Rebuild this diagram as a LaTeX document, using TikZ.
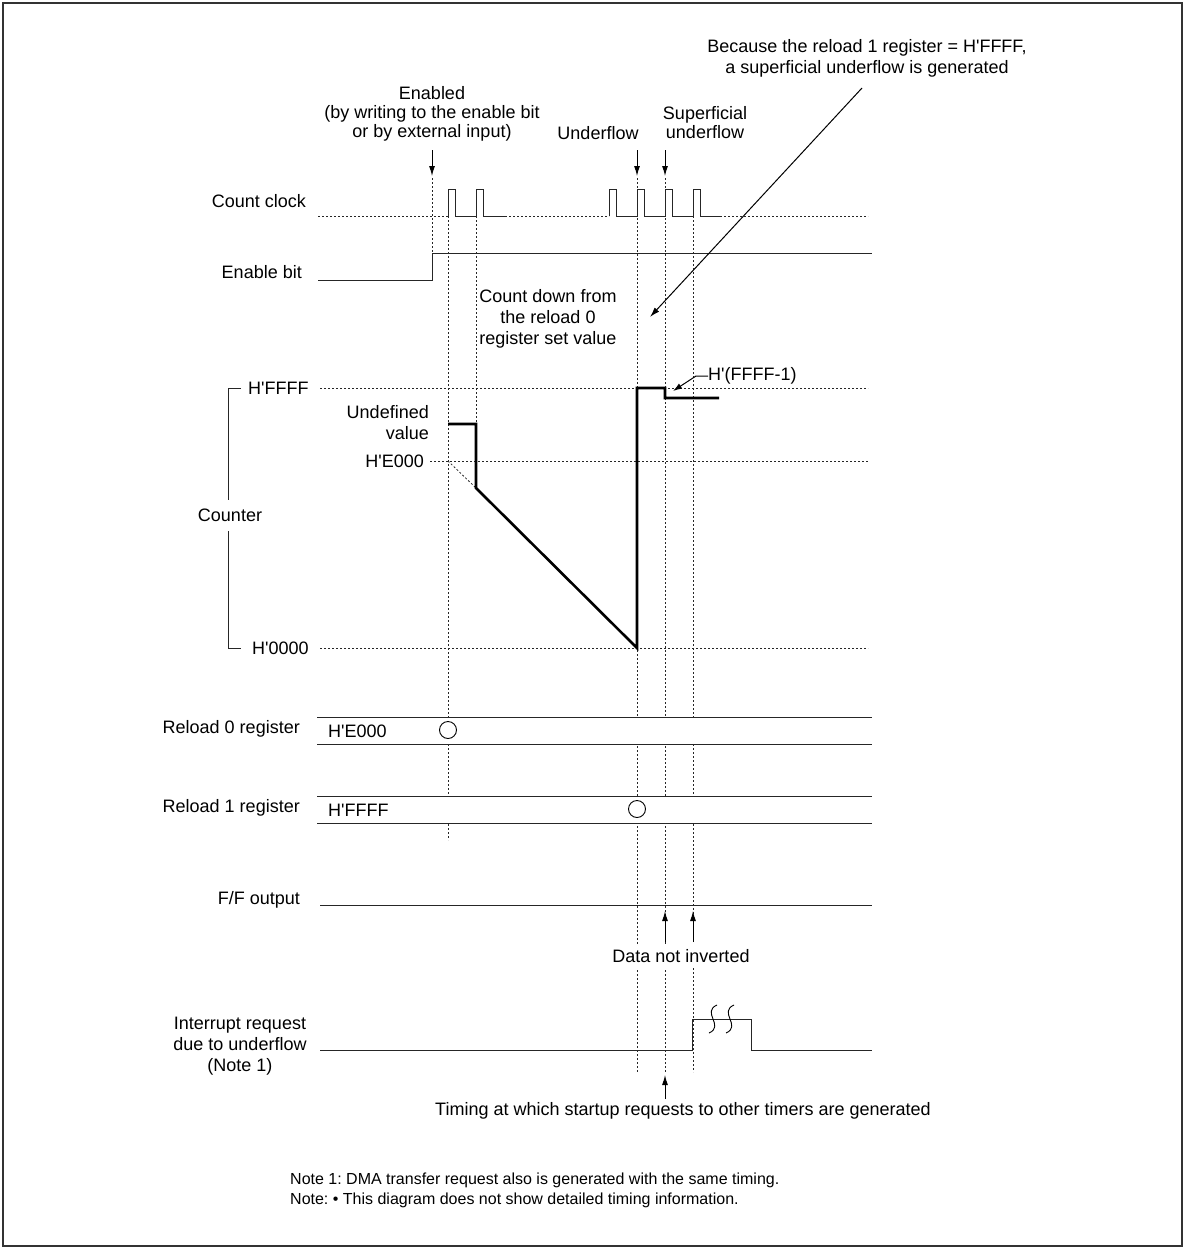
\documentclass[tikz,border=0pt]{standalone}
\usepackage{fontspec}
\setmainfont{Liberation Sans}[Ligatures=TeXOff]
\usetikzlibrary{arrows.meta}
\frenchspacing
\begin{document}
\begin{tikzpicture}[x=1pt,y=-1pt,
  txt/.style={font=\fontsize{18}{21}\selectfont, inner sep=0pt},
  ttxt/.style={font=\fontsize{18}{19}\selectfont, inner sep=0pt},
  ntxt/.style={font=\fontsize{16}{19}\selectfont, inner sep=0pt},
  sig/.style={line width=1pt, black!85},
  wave/.style={line width=2.6pt, black},
  dots/.style={line width=0.8pt, black!85, dash pattern=on 2pt off 2pt},
  arr/.style={line width=1pt, black, -{Latex[length=10pt,width=6pt]}},
  mark circ/.style={draw, circle, minimum size=17pt, inner sep=0pt, line width=0.9pt, fill=white},
]
\useasboundingbox (0,0) rectangle (1187,1248);
\draw[line width=1.5pt, black!80] (3,3) rectangle (1182,1246);

% ---------- top texts ----------
\node[ttxt, align=center] (nen) at (432,114) {Enabled\\(by writing to the enable bit\\or by external input)};
\node[ttxt] (nuf) at (598,133) {Underflow};
\node[ttxt, align=center] (nsu) at (705,123) {Superficial\\underflow};
\node[txt, align=center] (nbc) at (867,58) {Because the reload 1 register = H'FFFF,\\a superficial underflow is generated};

\coordinate (aen1) at (432,150); \coordinate (aen2) at (432,176);
\coordinate (auf1) at (637,150); \coordinate (auf2) at (637,176);
\coordinate (asu1) at (665,150); \coordinate (asu2) at (665,176);
\draw[arr] (aen1) -- (aen2);
\draw[arr] (auf1) -- (auf2);
\draw[arr] (asu1) -- (asu2);

% ---------- left labels ----------
\node[txt, anchor=east] (lcc) at (306,201) {Count clock};
\node[txt, anchor=east] (leb) at (302,272) {Enable bit};
\node[txt, anchor=east] (lr0) at (300,729) {Reload 0 register};
\node[txt, anchor=east] (lr1) at (300,808) {Reload 1 register};
\node[txt, anchor=east] (lff) at (300,900) {F/F output};
\node[txt, align=center] (lint) at (240,1046) {Interrupt request\\due to underflow\\(Note 1)};

% ---------- vertical dotted timing lines ----------
\draw[dots] (432,178) -- (432,253);
\draw[dots] (448,216) -- (448,840);
\draw[dots] (476,216) -- (476,424);
\draw[dots] (637,178) -- (637,1072);
\draw[dots] (665,178) -- (665,1072);
\draw[dots] (693,216) -- (693,1072);

% ---------- count clock ----------
\draw[dots] (318,216) -- (448,216);
\draw[sig] (448,216) foreach \x in {448,476} {-- (\x,216) -- (\x,189) -- (\x+7,189) -- (\x+7,216)} -- (505,216);
\draw[dots] (505,216) -- (609,216);
\draw[sig] (609,216) foreach \x in {609,637,665,693} {-- (\x,216) -- (\x,189) -- (\x+7,189) -- (\x+7,216)} -- (720,216);
\draw[dots] (720,216) -- (868,216);

% ---------- enable bit ----------
\draw[sig] (318,280) -- (432,280) -- (432,253) -- (872,253);

% ---------- counter ----------
\node[txt, anchor=west] (hffff) at (248,388) {H'FFFF};
\node[txt, anchor=west] (h0000) at (252,648) {H'0000};
\node[txt, anchor=east] (he000) at (424,461) {H'E000};
\node[txt, anchor=east, align=right] (und) at (429,423) {Undefined\\value};
\node[txt] (cnt) at (230,515) {Counter};
\draw[sig] (241,388) -- (228,388) -- (228,500);
\draw[sig] (228,531) -- (228,648) -- (241,648);

\draw[dots] (320,388) -- (868,388);
\draw[dots] (430,461) -- (868,461);
\draw[dots] (320,648) -- (868,648);
\draw[dots] (448,461) -- (476,488);

\node[txt, align=center] (ncd) at (548,319) {Count down from\\the reload 0\\register set value};

\draw[wave, line join=miter] (448,424) -- (476,424) -- (476,488) -- (637,648) -- (637,388) -- (665,388) -- (665,398) -- (719,398);

\node[txt, anchor=west] (nf1) at (708,376) {H'(FFFF-1)};
\coordinate (f1tip) at (673,391);
\draw[line width=1pt, -{Latex[length=9pt,width=6pt]}] (nf1.west) -- ++(-12,0) -- (f1tip);

\coordinate (bcs) at (862,88); \coordinate (bct) at (650,317);
\draw[arr] (bcs) -- (bct);

% ---------- reload registers ----------
\fill[white] (317,717) rectangle (872,744);
\draw[sig] (317,717) -- (872,717);
\draw[sig] (317,744) -- (872,744);
\node[txt, anchor=west] (r0v) at (328,731) {H'E000};
\node[mark circ] (c0) at (448,730) {};

\fill[white] (317,796) rectangle (872,823);
\draw[sig] (317,796) -- (872,796);
\draw[sig] (317,823) -- (872,823);
\node[txt, anchor=west] (r1v) at (328,810) {H'FFFF};
\node[mark circ] (c1) at (637,809) {};

% ---------- F/F output ----------
\draw[sig] (320,905) -- (872,905);
\coordinate (dn1) at (665,942); \coordinate (dn1t) at (665,911);
\coordinate (dn2) at (693,942); \coordinate (dn2t) at (693,911);
\draw[arr] (dn1) -- (dn1t);
\draw[arr] (dn2) -- (dn2t);
\node[txt, fill=white, inner ysep=5pt, inner xsep=1pt] (ndn) at (681,956) {Data not inverted};

% ---------- interrupt request ----------
\draw[sig] (320,1050) -- (692,1050) -- (692,1019) -- (751,1019) -- (751,1050) -- (872,1050);
\foreach \x in {713,730} {
  \draw[line width=0.9pt] (\x+4,1005) .. controls (\x-12,1012) and (\x+12,1026) .. (\x-4,1033);
}
\coordinate (tm1) at (665,1099); \coordinate (tm1t) at (665,1075);
\draw[arr] (tm1) -- (tm1t);
\node[txt] (ntm) at (683,1111) {Timing at which startup requests to other timers are generated};

% ---------- notes ----------
\node[ntxt, anchor=west] (n1) at (290,1180) {Note 1: DMA transfer request also is generated with the same timing.};
\node[ntxt, anchor=west] (n2) at (290,1200) {Note: \textbullet\ This diagram does not show detailed timing information.};
\end{tikzpicture}
\end{document}
